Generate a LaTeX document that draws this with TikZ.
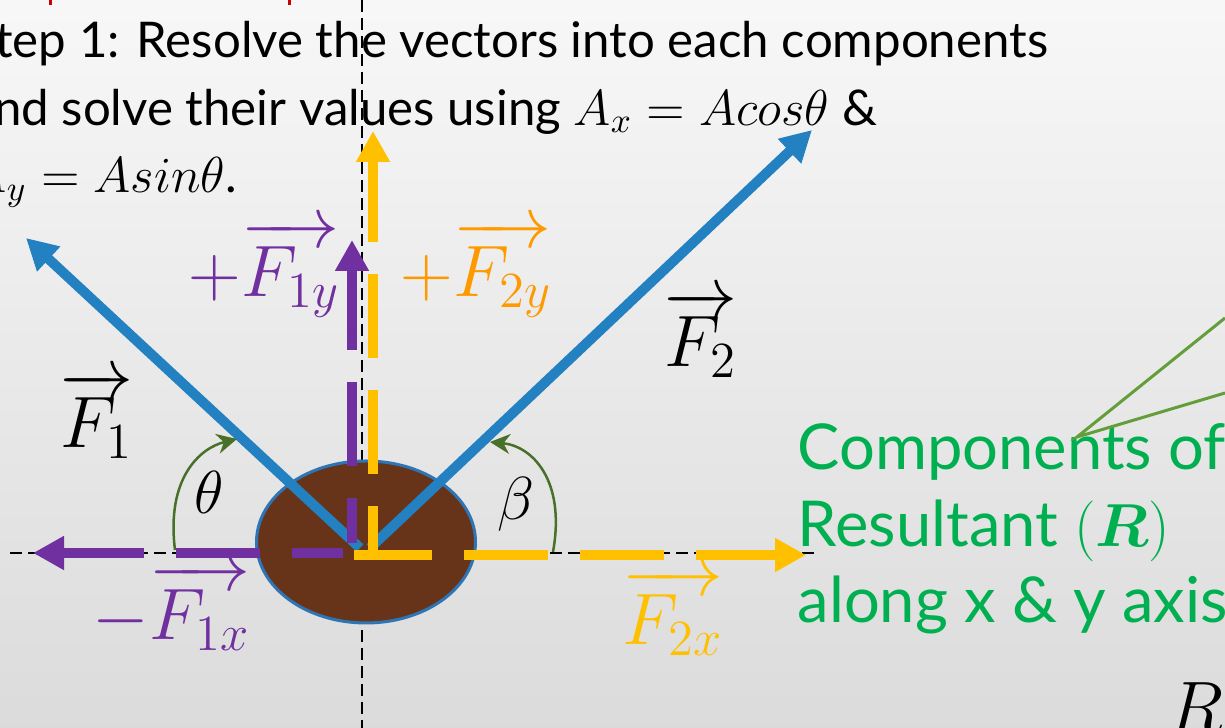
\documentclass[tikz,border=0pt]{standalone}
\usepackage{amsmath}
\usepackage{fontspec}
\setmainfont{Lato}
\usetikzlibrary{arrows.meta, shapes.geometric}

\definecolor{vecblue}{RGB}{36,129,193}
\definecolor{comppurple}{RGB}{112,48,160}
\definecolor{compgold}{RGB}{255,192,0}
\definecolor{labelorange}{RGB}{255,153,0}
\definecolor{bodybrown}{RGB}{103,52,26}
\definecolor{rimblue}{RGB}{46,117,182}
\definecolor{arcgreen}{RGB}{72,112,40}
\definecolor{notegreen}{RGB}{0,176,80}
\definecolor{leadgreen}{RGB}{100,158,58}
\definecolor{titlered}{RGB}{204,0,0}

\begin{document}
\begin{tikzpicture}[
    x=0.1mm, y=-0.1mm,
    >=Stealth,
    every node/.style={inner sep=0pt},
    axis/.style={black, line width=0.2mm, dash pattern=on 1.2mm off 0.6mm},
    vector/.style={vecblue, line width=1mm, -{Triangle[length=3.1mm, width=3.2mm]}},
    component/.style={line width=0.95mm, dash pattern=on 8.4mm off 3.2mm,
        -{Triangle[length=3.1mm, width=3.2mm]}},
    anglearc/.style={arcgreen, line width=0.25mm, -{Stealth[length=2mm, width=2mm]}},
    veclabel/.style={anchor=base west, font=\fontsize{20}{24}\selectfont},
    note/.style={anchor=base west, align=left, notegreen, font=\fontsize{18}{21.9}\selectfont}
]

% --- Background ---
\useasboundingbox (0,0) rectangle (1225,728);
\shade[top color=white!97!black, bottom color=white!86!black] (0,0) rectangle (1225,728);
\fill[titlered] (49,0) rectangle (52,5);
\fill[titlered] (288,0) rectangle (291,5);

% --- Instruction text (base = last line) ---
\node[anchor=base west, align=left, font=\fontsize{14}{19.3}\selectfont] (stepText) at (-31,193)
    {Step 1: Resolve the vectors into each components\\
     and solve their values using $A_x = Acos\theta$ \&\\
     $A_y = Asin\theta$.};

% --- Axes ---
\coordinate (axisTop) at (362,0);
\coordinate (axisBot) at (362,728);
\coordinate (axisLeft) at (10,553);
\coordinate (axisRight) at (817,553);
\draw[axis] (axisTop) -- (axisBot);
\draw[axis] (axisLeft) -- (axisRight);

% --- Body ---
\node[ellipse, draw=rimblue, line width=0.3mm, fill=bodybrown,
      minimum width=21.9mm, minimum height=16.2mm] (body) at (366,542) {};

% --- Force vectors ---
\coordinate (originA) at (360,548);
\coordinate (originB) at (370,548);
\coordinate (F1tip) at (26,238);
\coordinate (F2tip) at (812,130);
\draw[vector] (originA) -- (F1tip);
\draw[vector] (originB) -- (F2tip);

% --- Components ---
\coordinate (F1xstart) at (343,553);
\coordinate (F1xtip) at (33,553);
\coordinate (F1ystart) at (352,543);
\coordinate (F1ytip) at (352,240);
\coordinate (F2ystart) at (373,550);
\coordinate (F2ytip) at (373,131);
\coordinate (F2xstart) at (354,555);
\coordinate (F2xtip) at (806,555);
\draw[component, comppurple, dash phase=3.3mm] (F1xstart) -- (F1xtip);
\draw[component, comppurple, dash phase=3.9mm] (F1ystart) -- (F1ytip);
\draw[component, compgold, dash phase=4.0mm] (F2ystart) -- (F2ytip);
\draw[component, compgold, dash phase=0.6mm] (F2xstart) -- (F2xtip);

% --- Angles ---
\coordinate (thetaFoot) at (175,550);
\coordinate (thetaHead) at (237,439);
\coordinate (betaFoot) at (553,552);
\coordinate (betaHead) at (490,442);
\draw[anglearc] (thetaFoot) .. controls (166,478) and (200,448) .. (thetaHead);
\draw[anglearc] (betaFoot) .. controls (566,480) and (532,446) .. (betaHead);
\node[font=\fontsize{18}{20}\selectfont] (thetaLabel) at (209,492) {$\theta$};
\node[font=\fontsize{18}{20}\selectfont] (betaLabel) at (516,504) {$\beta$};

% --- Vector labels ---
\node[veclabel] (F1Label) at (60,448) {$\overrightarrow{F_1}$};
\node[veclabel] (F2Label) at (664,367) {$\overrightarrow{F_2}$};
\node[veclabel, comppurple] (F1yLabel) at (188,297) {$+\overrightarrow{F_{1y}}$};
\node[veclabel, labelorange] (F2yLabel) at (400,297) {$+\overrightarrow{F_{2y}}$};
\node[veclabel, comppurple] (F1xLabel) at (92,640) {$-\overrightarrow{F_{1x}}$};
\node[veclabel, compgold] (F2xLabel) at (622,645) {$\overrightarrow{F_{2x}}$};

% --- Note on the right (base = last line) ---
\node[note] (noteText) at (797,623)
    {Components of\\Resultant $(\boldsymbol{R})$\\along x \& y axis};
\coordinate (leadFoot) at (1077,437);
\coordinate (leadA) at (1225,318);
\coordinate (leadB) at (1225,393);
\draw[leadgreen, line width=0.3mm] (leadA) -- (leadFoot) -- (leadB);
\node[veclabel] (cornerR) at (1168,733) {$R$};

\end{tikzpicture}
\end{document}
